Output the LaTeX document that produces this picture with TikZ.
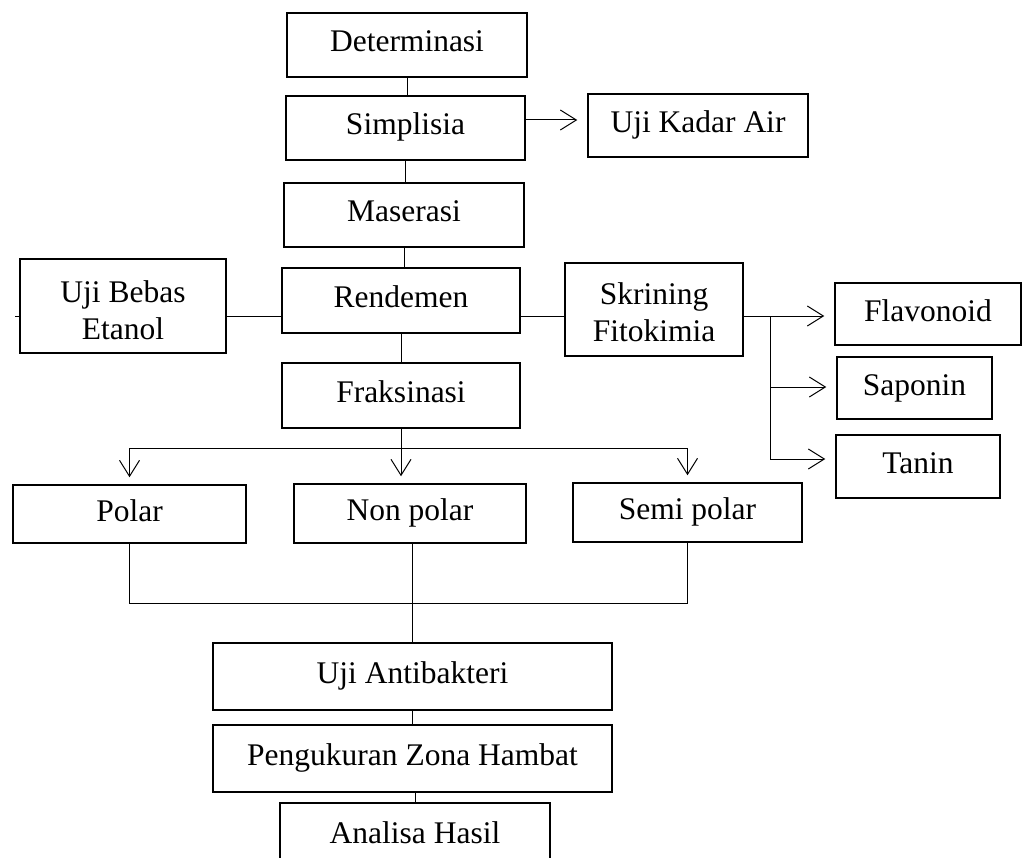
\documentclass[tikz,border=0pt]{standalone}
\usepackage{fontspec}
\setmainfont{Liberation Serif}
\usetikzlibrary{arrows.meta}
\tikzset{
  box/.style={draw, line width=1.5pt, font=\fontsize{31.5}{36}\selectfont, inner sep=0pt,
    text height=22pt, text depth=8pt, align=center},
  boxtwo/.style={box, text height=72pt, text depth=8pt},
  conn/.style={line width=1pt},
  arr/.style={conn, -{Straight Barb[length=16pt,width=20pt,line width=1pt]}},
}
\begin{document}
\begin{tikzpicture}[x=1pt,y=-1pt]
\clip (0,0) rectangle (1035,858);
\fill[white] (0,0) rectangle (1035,858);
% main column
\node[box, minimum width=240pt, minimum height=64pt] (det) at (407,45) {Determinasi};
\node[box, minimum width=239pt, minimum height=64pt] (simp) at (405.5,128) {Simplisia};
\node[box, minimum width=240pt, minimum height=64pt] (mas) at (404,215) {Maserasi};
\node[box, minimum width=238pt, minimum height=65pt] (rend) at (401,300.5) {Rendemen};
\node[box, minimum width=238pt, minimum height=65pt] (fraks) at (401,395.5) {Fraksinasi};
% side boxes
\node[box, minimum width=220pt, minimum height=63pt] (kadar) at (698,125.5) {Uji Kadar Air};
\node[boxtwo, text height=74pt, minimum width=206pt, minimum height=94pt] (bebas) at (123,306) {Uji Bebas\\Etanol};
\node[boxtwo, text height=71pt, minimum width=178pt, minimum height=93pt] (skrin) at (654,309.5) {Skrining\\Fitokimia};
\node[box, minimum width=186pt, minimum height=62pt] (flav) at (928,314) {Flavonoid};
\node[box, minimum width=155pt, minimum height=62pt] (sapo) at (914.5,388) {Saponin};
\node[box, minimum width=164pt, minimum height=63pt] (tanin) at (918,466.5) {Tanin};
% fractions
\node[box, minimum width=233pt, minimum height=58pt] (polar) at (129.5,514) {Polar};
\node[box, minimum width=232pt, minimum height=59pt] (nonpolar) at (410,513.5) {Non polar};
\node[box, minimum width=229pt, minimum height=59pt] (semi) at (687.5,512.5) {Semi polar};
% bottom
\node[box, minimum width=399pt, minimum height=67pt] (anti) at (412.5,676.5) {Uji Antibakteri};
\node[box, minimum width=399pt, minimum height=67pt] (peng) at (412.5,758.5) {Pengukuran Zona Hambat};
\node[box, minimum width=270pt, minimum height=67pt] (anal) at (415,836.5) {Analisa Hasil};
% connectors main column
\draw[conn] (det.south) -- (det.south |- simp.north);
\draw[conn] (simp.south) -- (simp.south |- mas.north);
\draw[conn] (mas.south) -- (mas.south |- rend.north);
\draw[conn] (rend.south) -- (rend.south |- fraks.north);
% simplisia -> kadar air
\draw[arr, shorten >=10pt] (simp.east |- 0,120) -- (kadar.west |- 0,120);
% rendemen side links
\draw[conn] (bebas.east |- 0,316) -- (rend.west |- 0,316);
\draw[conn] (bebas.west |- 0,316) -- ++(-4,0);
\draw[conn] (rend.east |- 0,316) -- (skrin.west |- 0,316);
% skrining -> compounds
\coordinate (br) at (770,316);
\draw[arr, shorten >=10pt] (skrin.east |- br) -- (flav.west |- br);
\draw[conn] (br) -- (770,387);
\draw[arr, shorten >=10pt] (770,387) -- (sapo.west |- 0,387);
\draw[arr, shorten >=10pt] (770,387) |- (tanin.west |- 0,459);
% fraksinasi -> fractions
\coordinate (fk) at (fraks.south |- 0,448);
\draw[conn] (fraks.south) -- (fk);
\draw[conn] (polar.north |- fk) -- (semi.north |- fk);
\draw[arr, shorten >=7pt] (polar.north |- fk) -- (polar.north);
\draw[arr, shorten >=7pt] (fk) -- (fk |- nonpolar.north);
\draw[arr, shorten >=7pt] (semi.north |- fk) -- (semi.north);
% fractions -> antibakteri
\draw[conn] (polar.south) -- (polar.south |- 0,603) -- (semi.south |- 0,603) -- (semi.south);
\draw[conn] (nonpolar.south -| anti.north) -- (anti.north);
\draw[conn] (anti.south) -- (peng.north);
\draw[conn] (anal.north |- peng.south) -- (anal.north);
\end{tikzpicture}
\end{document}
